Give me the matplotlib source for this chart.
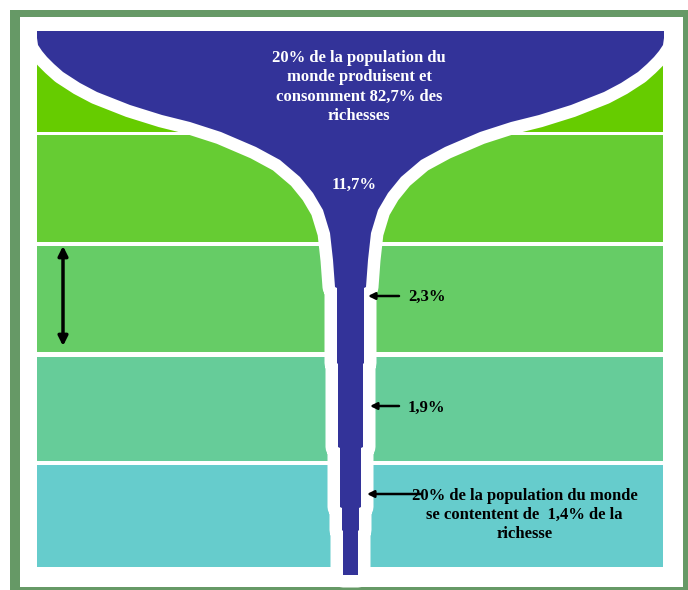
import numpy as np
import matplotlib
matplotlib.use('Agg')
import matplotlib.pyplot as plt
from matplotlib.patches import Rectangle, Polygon

plt.rcParams['font.family'] = ['Liberation Serif', 'DejaVu Serif']

# Parts de la richesse mondiale par quintile de population (du plus riche au plus pauvre)
wealth_share = [82.7, 11.7, 2.3, 1.9, 1.4]
band_colors = ['#66cc00', '#66cc33', '#66cc66', '#66cc99', '#66cccc']
# limites verticales des cinq quintiles (en pixels de l'image)
band_top = [31, 135, 245.5, 356.5, 465]
band_bottom = [131.5, 242, 352, 461, 567]

# profil du bord gauche de la "coupe" (y, x)
funnel_y = [31, 38, 45, 51, 57, 64, 72, 83, 92, 105, 115, 122, 132, 147, 160, 177,
            193, 210, 233, 260, 287, 288, 363, 364, 447, 448, 507, 508, 530, 531, 575]
funnel_left = [37, 37, 38, 42, 47, 54, 63, 80, 97, 130, 162, 190, 221, 256, 280, 300,
               313, 323, 330, 333, 335, 337, 337, 338, 338, 340, 340, 342, 342, 343, 343]
center = 350.5

fig = plt.figure(figsize=(6.88, 5.90), dpi=100)
ax = fig.add_axes([0, 0, 1, 1])
ax.set_xlim(0, 688)
ax.set_ylim(590, 0)
ax.axis('off')

# cadre vert
ax.add_patch(Rectangle((10, 10), 678, 580, facecolor='#669966', edgecolor='none', zorder=0))
ax.add_patch(Rectangle((20, 17), 663, 570, facecolor='white', edgecolor='none', zorder=0))

# bandes de population
for top, bot, col in zip(band_top, band_bottom, band_colors):
    ax.add_patch(Rectangle((37, top), 626, bot - top, facecolor=col, edgecolor='none', zorder=1))

# coupe : contour blanc puis forme bleue
half = center - np.array(funnel_left)
ys = np.array(funnel_y)
xs = np.concatenate([center - half, (center + half)[::-1]])
yy = np.concatenate([ys, ys[::-1]])
pts = np.column_stack([xs, yy])
ax.add_patch(Polygon(pts, closed=True, facecolor='white', edgecolor='white',
                     linewidth=18, joinstyle='round', zorder=2))
ax.add_patch(Polygon(pts, closed=True, facecolor='#333399', edgecolor='none', zorder=3))

fmt = lambda v: f'{v:.1f}'.replace('.', ',') + '%'

ax.text(359, 87, "20% de la population du\nmonde produisent et\nconsomment "
        + fmt(wealth_share[0]) + " des\nrichesses",
        ha='center', va='center', color='white', fontsize=12, fontweight='bold',
        linespacing=1.27, zorder=5)
ax.text(354, 185, fmt(wealth_share[1]), ha='center', va='center', color='white',
        fontsize=12, fontweight='bold', zorder=5)

arrow = dict(arrowstyle='-|>', color='black', lw=1.8, mutation_scale=10, shrinkA=0, shrinkB=0)
ax.annotate('', xy=(368, 296), xytext=(399, 296), arrowprops=arrow, zorder=6)
ax.text(408, 297, fmt(wealth_share[2]), ha='left', va='center', color='black',
        fontsize=12, fontweight='bold', zorder=5)
ax.annotate('', xy=(370, 406), xytext=(399, 406), arrowprops=arrow, zorder=6)
ax.text(408, 408, fmt(wealth_share[3]), ha='left', va='center', color='black',
        fontsize=12, fontweight='bold', zorder=5)

ax.annotate('', xy=(367, 494), xytext=(421, 494), arrowprops=arrow, zorder=6)
ax.text(524.5, 515, "20% de la population du monde\nse contentent de  "
        + fmt(wealth_share[4]) + " de la\nrichesse",
        ha='center', va='center', color='black', fontsize=12, fontweight='bold',
        linespacing=1.22, zorder=5)

# flèche verticale = un quintile de population
ax.annotate('', xy=(63, 246), xytext=(63, 346),
            arrowprops=dict(arrowstyle='<|-|>', color='black', lw=2.5, mutation_scale=14,
                            shrinkA=0, shrinkB=0), zorder=6)

fig.savefig('out.png', dpi=100)
